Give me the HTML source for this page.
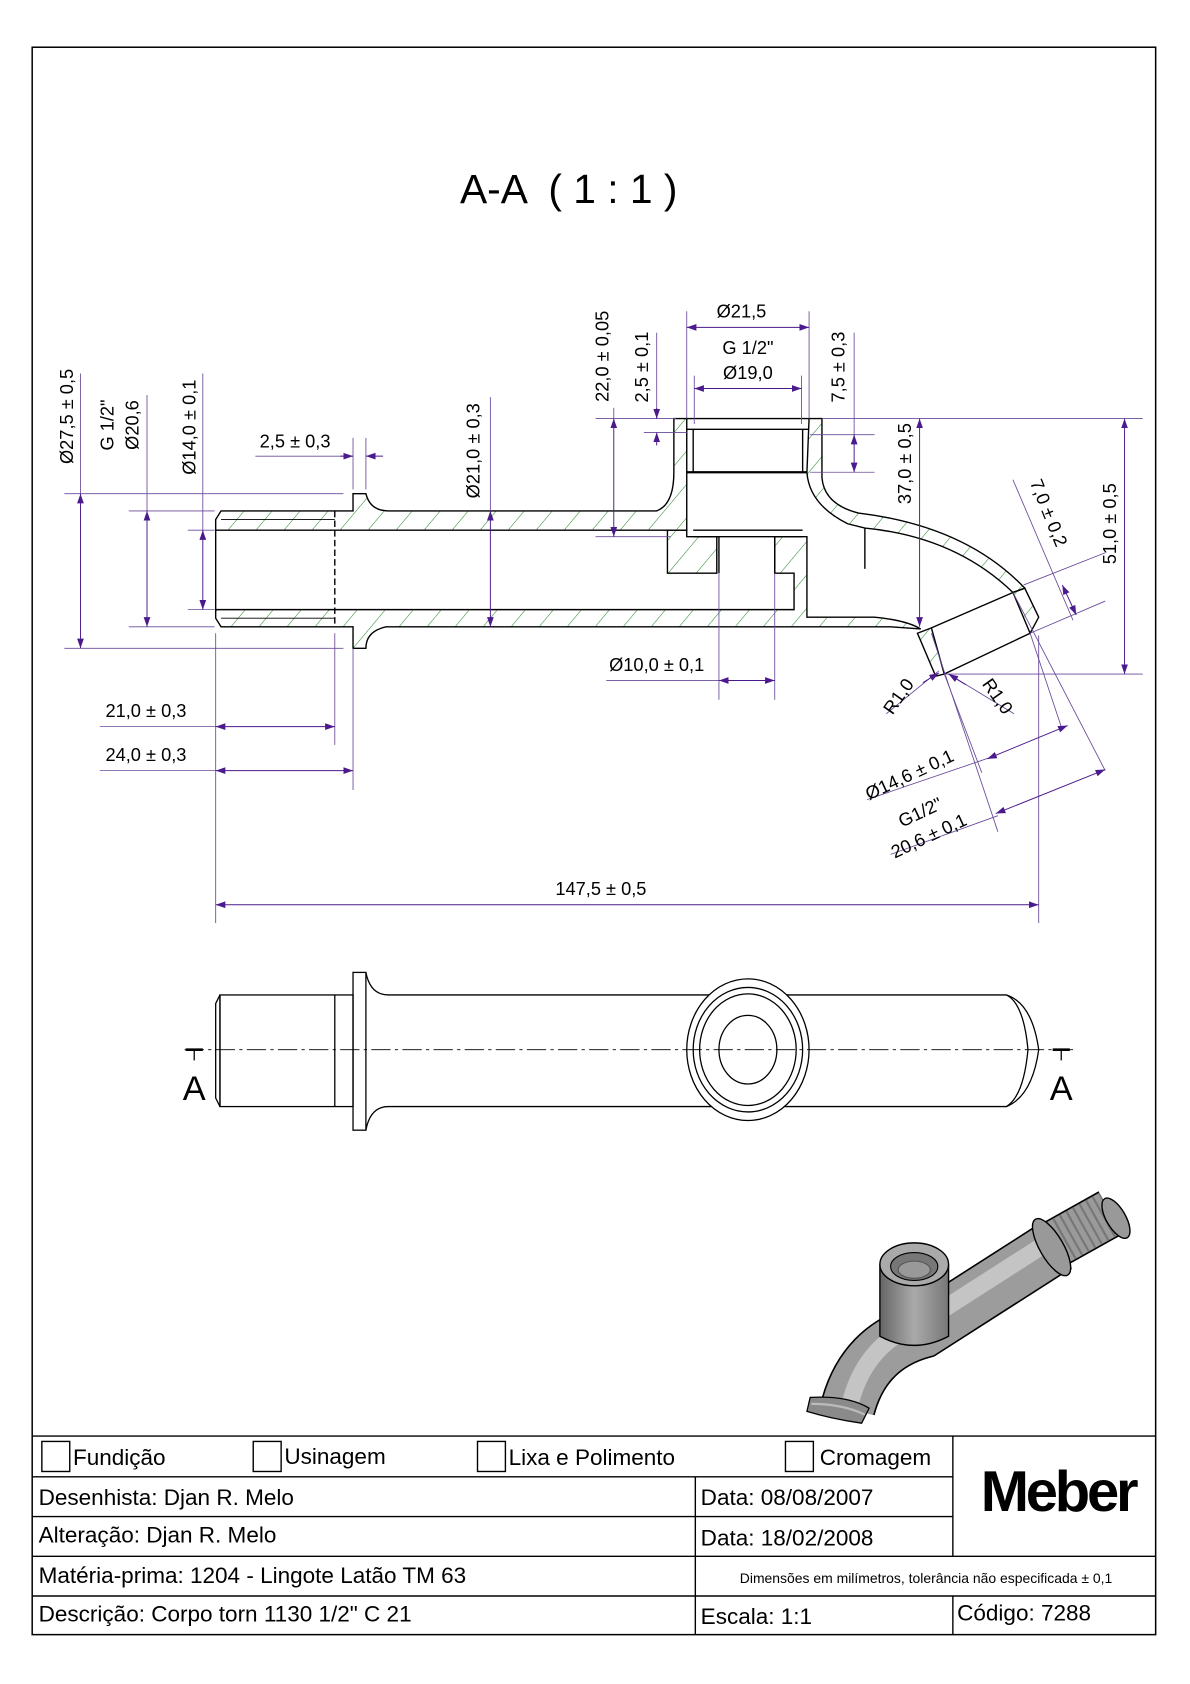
<!DOCTYPE html>
<html><head><meta charset="utf-8"><style>
html,body{margin:0;padding:0;background:#fff;}
svg{display:block;}
text{font-family:"Liberation Sans",sans-serif;}
</style></head><body>
<svg width="1190" height="1684" viewBox="0 0 1109 1569" preserveAspectRatio="none" xmlns="http://www.w3.org/2000/svg">
<defs>
<pattern id="h" patternUnits="userSpaceOnUse" width="20" height="20" patternTransform="rotate(40)">
<line x1="0" y1="0" x2="0" y2="20" stroke="#2a8a2a" stroke-width="1"/>
</pattern>
<marker id="a" viewBox="0 0 10 10" refX="10" refY="5" markerWidth="9" markerHeight="9" orient="auto-start-reverse" markerUnits="userSpaceOnUse">
<path d="M0,1.5 L10,5 L0,8.5 Z" fill="#4b1a8c"/></marker>
<linearGradient id="g2" x1="0" y1="0" x2="1" y2="0">
<stop offset="0" stop-color="#666"/><stop offset="0.5" stop-color="#aaa"/><stop offset="1" stop-color="#777"/></linearGradient>
</defs>
<rect x="30" y="44" width="1047" height="1479" fill="none" stroke="#000" stroke-width="1.4"/>
<text x="530" y="189" font-size="38" text-anchor="middle" xml:space="preserve">A-A  ( 1 : 1 )</text>

<g stroke="#000" stroke-width="1.3" fill="url(#h)">
<path d="M201,484 L206,476 L329,476 L329,460 L341,460 Q345,476 362,476 L612,476 Q628,470 628,440 L628,390 L640,390 L640,494 L201,494 Z"/>
<path d="M622,494 L640,494 L640,500 L668,500 L668,534 L622,534 Z"/>
<path d="M201,568 L740,568 L740,534 L722,534 L722,500 L752,500 L752,575 L815,575 Q845,578 858,586 L830,584 L360,584 Q341,588 341,604 L329,604 L329,584 L206,584 L201,576 Z"/>
<path d="M754,390 L766,390 L766,445 Q768,470 800,478 Q900,490 955,548 L944,552 Q890,500 806,492 L790,488 Q754,470 752,440 Z"/>
<path d="M944,552 L955,548 L968,575 L960,590 Z"/>
<path d="M855,590 L868,585 L880,628 L872,630 Z"/>
</g>
<g stroke="#000" stroke-width="1.3" fill="none">
<line x1="206" y1="484" x2="312" y2="484" stroke-width="0.8"/>
<line x1="206" y1="576" x2="312" y2="576" stroke-width="0.8"/>
<line x1="312" y1="476" x2="312" y2="584" stroke-dasharray="6,3"/>
<line x1="201" y1="494" x2="201" y2="568"/>
<line x1="640" y1="400" x2="754" y2="400"/>
<line x1="646" y1="400" x2="646" y2="440"/><line x1="748" y1="400" x2="748" y2="440"/>
<line x1="640" y1="390" x2="754" y2="390"/>
<line x1="640" y1="440" x2="752" y2="440" stroke-width="2"/>
<line x1="646" y1="500" x2="748" y2="500"/>
<line x1="646" y1="494" x2="748" y2="494"/>
<line x1="670" y1="500" x2="670" y2="534"/><line x1="722" y1="500" x2="722" y2="534"/>
<line x1="806" y1="492" x2="806" y2="530"/>
<line x1="868" y1="585" x2="944" y2="552"/>
<line x1="880" y1="628" x2="960" y2="590"/>
</g>

<g stroke="#6a4a9a" stroke-width="0.8" fill="none">
<line x1="60" y1="460" x2="320" y2="460"/><line x1="60" y1="604" x2="320" y2="604"/>
<line x1="75" y1="348" x2="75" y2="460"/>
<line x1="120" y1="476" x2="200" y2="476"/><line x1="120" y1="584" x2="200" y2="584"/>
<line x1="137" y1="368" x2="137" y2="476"/>
<line x1="175" y1="494" x2="200" y2="494"/><line x1="175" y1="568" x2="200" y2="568"/>
<line x1="189" y1="348" x2="189" y2="494"/>
<line x1="329" y1="408" x2="329" y2="456"/><line x1="341" y1="408" x2="341" y2="456"/>
<line x1="238" y1="425" x2="329" y2="425"/>
<line x1="457" y1="370" x2="457" y2="476"/>
<line x1="555" y1="390" x2="630" y2="390"/><line x1="555" y1="500" x2="625" y2="500"/>
<line x1="572" y1="380" x2="572" y2="390"/>
<line x1="600" y1="403" x2="640" y2="403"/>
<line x1="612" y1="310" x2="612" y2="390"/>
<line x1="640" y1="290" x2="640" y2="390"/><line x1="754" y1="290" x2="754" y2="390"/>
<line x1="647" y1="350" x2="647" y2="395"/><line x1="747" y1="350" x2="747" y2="395"/>
<line x1="755" y1="405" x2="815" y2="405"/><line x1="755" y1="440" x2="815" y2="440"/>
<line x1="796" y1="310" x2="796" y2="405"/>
<line x1="766" y1="390" x2="1065" y2="390"/>
<line x1="880" y1="628" x2="1065" y2="628"/>
<line x1="670" y1="534" x2="670" y2="652"/><line x1="722" y1="534" x2="722" y2="652"/>
<line x1="565" y1="634" x2="670" y2="634"/>
<line x1="201" y1="590" x2="201" y2="860"/>
<line x1="312" y1="590" x2="312" y2="694"/>
<line x1="329" y1="604" x2="329" y2="736"/>
<line x1="93" y1="677" x2="201" y2="677"/>
<line x1="93" y1="718" x2="201" y2="718"/>
<line x1="968" y1="592" x2="968" y2="860"/>
<line x1="944" y1="447" x2="1000" y2="578"/>
<line x1="954" y1="545" x2="1030" y2="515"/><line x1="960" y1="590" x2="1030" y2="560"/>
<line x1="826" y1="665" x2="875" y2="625"/>
<line x1="884" y1="628" x2="945" y2="665"/>
<line x1="868" y1="590" x2="930" y2="775"/>
<line x1="880" y1="628" x2="915" y2="720"/>
<line x1="944" y1="552" x2="1030" y2="718"/>
<line x1="960" y1="590" x2="990" y2="680"/>
<line x1="808" y1="745" x2="925" y2="705"/>
<line x1="830" y1="796" x2="930" y2="760"/>
</g>
<g stroke="#4b1a8c" stroke-width="0.9" fill="none" marker-start="url(#a)" marker-end="url(#a)">
<line x1="75" y1="460" x2="75" y2="604"/>
<line x1="137" y1="476" x2="137" y2="584"/>
<line x1="189" y1="494" x2="189" y2="568"/>
<line x1="457" y1="476" x2="457" y2="584"/>
<line x1="572" y1="390" x2="572" y2="500"/>
<line x1="640" y1="305" x2="754" y2="305"/>
<line x1="647" y1="362" x2="747" y2="362"/>
<line x1="796" y1="405" x2="796" y2="440"/>
<line x1="857" y1="390" x2="857" y2="584"/>
<line x1="1048" y1="390" x2="1048" y2="628"/>
<line x1="670" y1="634" x2="722" y2="634"/>
<line x1="201" y1="677" x2="312" y2="677"/>
<line x1="201" y1="718" x2="329" y2="718"/>
<line x1="201" y1="843" x2="968" y2="843"/>
<line x1="990" y1="545" x2="1003" y2="573"/>
<line x1="920" y1="707" x2="995" y2="676"/>
<line x1="928" y1="758" x2="1030" y2="717"/>
</g>
<g stroke="#4b1a8c" stroke-width="0.9" fill="none">
<line x1="317" y1="425" x2="329" y2="425" marker-end="url(#a)"/>
<line x1="357" y1="425" x2="341" y2="425" marker-end="url(#a)"/>
<line x1="612" y1="380" x2="612" y2="390" marker-end="url(#a)"/>
<line x1="612" y1="415" x2="612" y2="403" marker-end="url(#a)"/>
<line x1="860" y1="636" x2="875" y2="627" marker-end="url(#a)"/>
<line x1="900" y1="638" x2="884" y2="628" marker-end="url(#a)"/>
</g>
<g font-size="17" fill="#000">
<text transform="translate(68,388) rotate(-90)" text-anchor="middle">Ø27,5 ± 0,5</text>
<text transform="translate(106,396) rotate(-90)" text-anchor="middle">G 1/2"</text>
<text transform="translate(129,396) rotate(-90)" text-anchor="middle">Ø20,6</text>
<text transform="translate(182,398) rotate(-90)" text-anchor="middle">Ø14,0 ± 0,1</text>
<text x="275" y="417" text-anchor="middle">2,5 ± 0,3</text>
<text transform="translate(447,420) rotate(-90)" text-anchor="middle">Ø21,0 ± 0,3</text>
<text transform="translate(567,332) rotate(-90)" text-anchor="middle">22,0 ± 0,05</text>
<text transform="translate(604,342) rotate(-90)" text-anchor="middle">2,5 ± 0,1</text>
<text x="691" y="296" text-anchor="middle">Ø21,5</text>
<text x="697" y="330" text-anchor="middle">G 1/2"</text>
<text x="697" y="353" text-anchor="middle">Ø19,0</text>
<text transform="translate(787,342) rotate(-90)" text-anchor="middle">7,5 ± 0,3</text>
<text transform="translate(849,432) rotate(-90)" text-anchor="middle">37,0 ± 0,5</text>
<text transform="translate(1040,488) rotate(-90)" text-anchor="middle">51,0 ± 0,5</text>
<text transform="translate(972,480) rotate(68)" text-anchor="middle">7,0 ± 0,2</text>
<text transform="translate(842,652) rotate(-55)" text-anchor="middle">R1,0</text>
<text transform="translate(925,652) rotate(55)" text-anchor="middle">R1,0</text>
<text transform="translate(850,727) rotate(-25)" text-anchor="middle">Ø14,6 ± 0,1</text>
<text transform="translate(860,762) rotate(-25)" text-anchor="middle">G1/2"</text>
<text transform="translate(868,784) rotate(-25)" text-anchor="middle">20,6 ± 0,1</text>
<text x="612" y="625" text-anchor="middle">Ø10,0 ± 0,1</text>
<text x="136" y="668" text-anchor="middle">21,0 ± 0,3</text>
<text x="136" y="709" text-anchor="middle">24,0 ± 0,3</text>
<text x="560" y="834" text-anchor="middle">147,5 ± 0,5</text>
</g>

<g stroke="#000" stroke-width="1.2" fill="none">
<path d="M205,927 L201,935 L201,1023 L205,1031"/>
<line x1="205" y1="927" x2="205" y2="1031"/>
<rect x="205" y="927" width="124" height="104"/>
<line x1="312" y1="927" x2="312" y2="1031"/>
<rect x="329" y="906" width="12" height="147"/>
<path d="M341,906 Q345,927 362,927 L938,927 Q962,935 968,978 Q962,1021 938,1031 L362,1031 Q345,1031 341,1053"/>
<path d="M938,927 Q954,935 958,978 Q954,1021 938,1031"/>
<ellipse cx="697" cy="978" rx="57" ry="66" fill="#fff"/>
<ellipse cx="697" cy="978" rx="51" ry="58"/>
<ellipse cx="697" cy="978" rx="45" ry="52"/>
<ellipse cx="697" cy="978" rx="27" ry="32"/>
<line x1="172" y1="978" x2="1000" y2="978" stroke-width="0.9" stroke-dasharray="18,4,3,4"/>
<line x1="173" y1="978" x2="189" y2="978" stroke-width="2.5"/>
<line x1="981" y1="978" x2="997" y2="978" stroke-width="2.5"/>
<line x1="181" y1="978" x2="181" y2="988"/><line x1="989" y1="978" x2="989" y2="988"/>
</g>
<text x="181" y="1025" font-size="32" text-anchor="middle">A</text>
<text x="989" y="1025" font-size="32" text-anchor="middle">A</text>

<!-- 3D view -->
<g fill="none" stroke-linecap="butt">
<path d="M985,1158 L1035,1130" stroke="#000" stroke-width="46"/>
<path d="M985,1158 L1035,1130" stroke="#9a9a9a" stroke-width="43"/>
<path d="M985,1158 L1035,1130" stroke="#777" stroke-width="43" stroke-dasharray="2,5"/>
<ellipse cx="1040" cy="1135" rx="9" ry="21" transform="rotate(-30 1040 1135)" fill="#999" stroke="#000" stroke-width="1.3"/>
<path d="M790,1312 Q805,1255 860,1240 L985,1160" stroke="#000" stroke-width="52"/>
<path d="M790,1312 Q805,1255 860,1240 L985,1160" stroke="#9c9c9c" stroke-width="49"/>
<path d="M793,1305 Q808,1250 860,1232 L985,1152" stroke="#c4c4c4" stroke-width="16"/>
<ellipse cx="980" cy="1162" rx="11" ry="30" transform="rotate(-30 980 1162)" fill="#999" stroke="#000" stroke-width="1.3"/>
<path d="M755,1302 Q790,1300 810,1312 L803,1326 Q775,1322 752,1315 Z" fill="#8a8a8a" stroke="#000" stroke-width="1.2"/>
<path d="M756,1308 Q785,1308 806,1318" stroke="#bbb" stroke-width="2"/>
<path d="M820,1178 L820,1245 Q852,1262 884,1245 L884,1178" fill="url(#g2)" stroke="#000" stroke-width="1.3"/>
<ellipse cx="852" cy="1178" rx="32" ry="20" fill="#aaa" stroke="#000" stroke-width="1.3"/>
<ellipse cx="852" cy="1180" rx="22" ry="13" fill="#777" stroke="#000" stroke-width="1"/>
<ellipse cx="852" cy="1183" rx="15" ry="8" fill="#999" stroke="#555" stroke-width="1"/>
</g>

<g stroke="#000" stroke-width="1.3" fill="none">
<line x1="30" y1="1338" x2="1077" y2="1338"/>
<line x1="30" y1="1376" x2="888" y2="1376"/>
<line x1="30" y1="1413" x2="888" y2="1413"/>
<line x1="30" y1="1450" x2="1077" y2="1450"/>
<line x1="30" y1="1487" x2="1077" y2="1487"/>
<line x1="648" y1="1376" x2="648" y2="1523"/>
<line x1="888" y1="1338" x2="888" y2="1450"/>
<line x1="888" y1="1487" x2="888" y2="1523"/>
<rect x="39" y="1343" width="26" height="28"/>
<rect x="236" y="1343" width="26" height="28"/>
<rect x="445" y="1343" width="26" height="28"/>
<rect x="732" y="1343" width="26" height="28"/>
</g>
<g font-size="21">
<text x="68" y="1365">Fundição</text>
<text x="265" y="1364">Usinagem</text>
<text x="474" y="1365">Lixa e Polimento</text>
<text x="764" y="1365">Cromagem</text>
<text x="36" y="1402">Desenhista: Djan R. Melo</text>
<text x="653" y="1402">Data: 08/08/2007</text>
<text x="36" y="1437">Alteração: Djan R. Melo</text>
<text x="653" y="1440">Data: 18/02/2008</text>
<text x="36" y="1475">Matéria-prima: 1204 - Lingote Latão TM 63</text>
<text x="36" y="1511">Descrição: Corpo torn 1130 1/2" C 21</text>
<text x="653" y="1513">Escala: 1:1</text>
<text x="892" y="1510">Código: 7288</text>
</g>
<text x="863" y="1475" font-size="13" text-anchor="middle">Dimensões em milímetros, tolerância não especificada ± 0,1</text>
<text x="986" y="1408" font-size="54" font-weight="bold" text-anchor="middle" letter-spacing="-3">Meber</text>
</svg>
</body></html>
